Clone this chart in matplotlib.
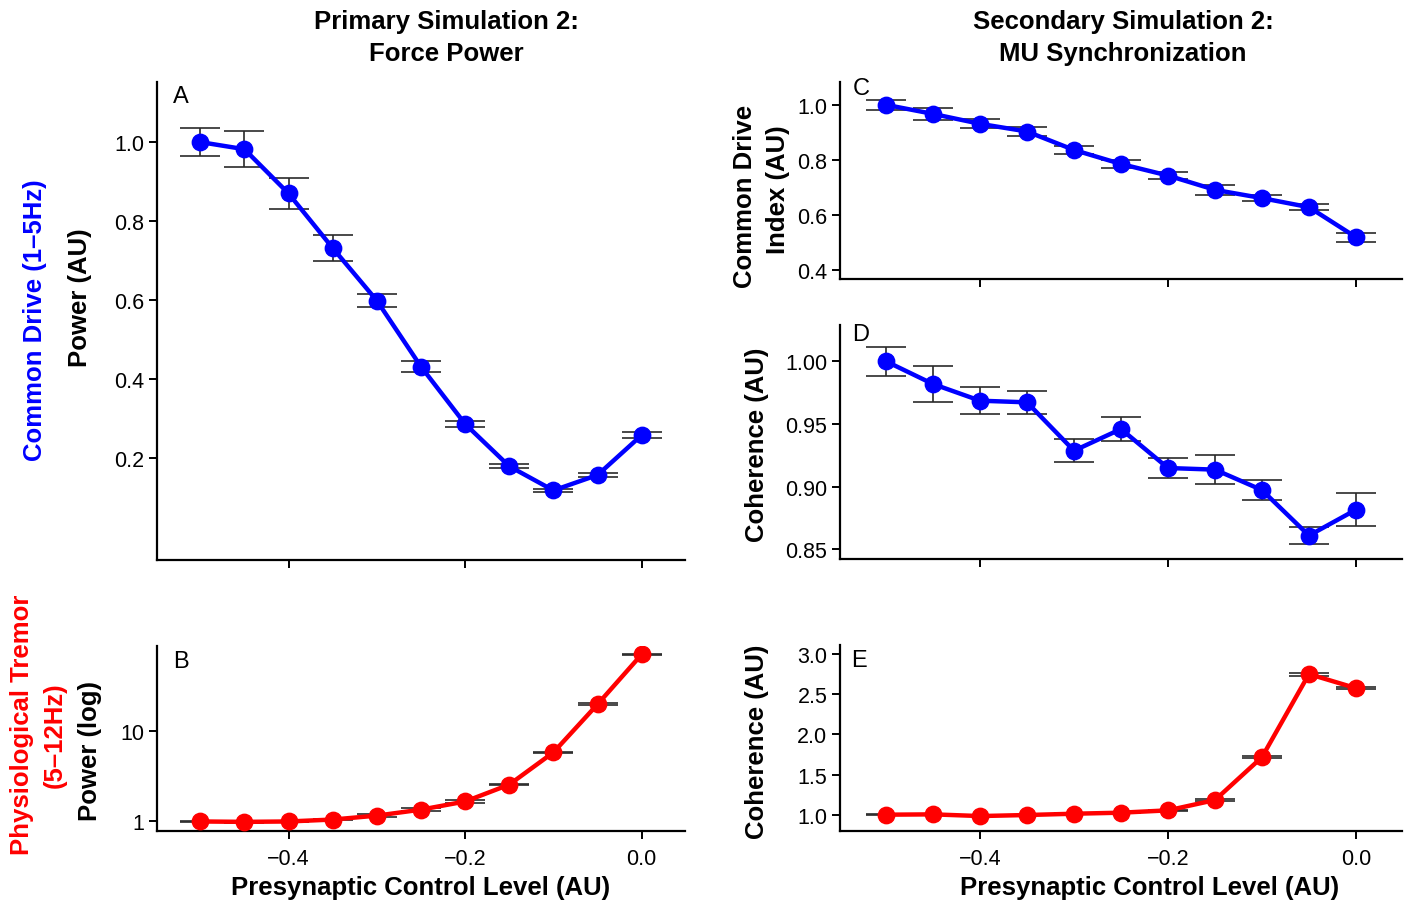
import matplotlib
matplotlib.use("Agg")
import matplotlib.pyplot as plt
from matplotlib.ticker import FixedLocator, FixedFormatter, NullLocator

plt.rcParams['font.family'] = ['Liberation Sans', 'DejaVu Sans']

# ---------------- data ----------------
pcl = [-0.5, -0.45, -0.4, -0.35, -0.3, -0.25, -0.2, -0.15, -0.1, -0.05, 0.0]

a_power = [1.0, 0.982, 0.870, 0.732, 0.599, 0.432, 0.287, 0.180, 0.119, 0.158, 0.259]
a_err = [0.036, 0.045, 0.038, 0.032, 0.016, 0.0135, 0.007, 0.0055, 0.003, 0.0055, 0.008]

b_power = [1.0, 0.99, 1.0, 1.05, 1.16, 1.35, 1.66, 2.55, 5.78, 19.6, 69.6]
b_relerr = [0.02, 0.02, 0.02, 0.02, 0.03, 0.03, 0.03, 0.02, 0.02, 0.02, 0.02]

c_cdi = [1.0, 0.967, 0.931, 0.903, 0.836, 0.785, 0.743, 0.691, 0.661, 0.628, 0.519]
c_err = [0.017, 0.022, 0.017, 0.015, 0.015, 0.014, 0.014, 0.019, 0.011, 0.011, 0.017]

d_coh = [1.000, 0.9819, 0.9686, 0.9673, 0.9287, 0.946, 0.9149, 0.9136, 0.8973, 0.861, 0.8816]
d_err = [0.0117, 0.0144, 0.0106, 0.0092, 0.0093, 0.0096, 0.0077, 0.0113, 0.0082, 0.0070, 0.013]

e_coh = [1.0, 1.004, 0.983, 0.996, 1.012, 1.025, 1.054, 1.182, 1.716, 2.75, 2.575]
e_err = [0.004, 0.004, 0.004, 0.004, 0.004, 0.005, 0.006, 0.008, 0.012, 0.018, 0.015]

x_ticks = [-0.4, -0.2, 0.0]
x_ticklabels = ["\u22120.4", "\u22120.2", "0.0"]
a_ticks = [0.2, 0.4, 0.6, 0.8, 1.0]
a_ticklabels = ["0.2", "0.4", "0.6", "0.8", "1.0"]
b_ticks = [1, 10]
b_ticklabels = ["1", "10"]
c_ticks = [0.4, 0.6, 0.8, 1.0]
c_ticklabels = ["0.4", "0.6", "0.8", "1.0"]
d_ticks = [0.85, 0.90, 0.95, 1.00]
d_ticklabels = ["0.85", "0.90", "0.95", "1.00"]
e_ticks = [1.0, 1.5, 2.0, 2.5, 3.0]
e_ticklabels = ["1.0", "1.5", "2.0", "2.5", "3.0"]

BLUE = "#0000FF"
RED = "#FF0000"
ECOL = "#2a2a2a"

W, H = 1411, 903
fig = plt.figure(figsize=(W / 100, H / 100), dpi=100)


def ax_at(x0, y0, x1, y1):
    return fig.add_axes([x0 / W, 1 - y1 / H, (x1 - x0) / W, (y1 - y0) / H])


def ftext(px, py, s, **kw):
    fig.text(px / W, 1 - py / H, s, ha="center", va="center", **kw)


def style(ax, yt, ytl, show_x):
    for s in ("top", "right"):
        ax.spines[s].set_visible(False)
    for s in ("left", "bottom"):
        ax.spines[s].set_linewidth(1.6)
        ax.spines[s].set_color("black")
    ax.set_xlim(-0.549, 0.049)
    ax.xaxis.set_major_locator(FixedLocator(x_ticks))
    if show_x:
        ax.xaxis.set_major_formatter(FixedFormatter(x_ticklabels))
    else:
        ax.xaxis.set_major_formatter(FixedFormatter([""] * len(x_ticks)))
    ax.yaxis.set_major_locator(FixedLocator(yt))
    ax.yaxis.set_major_formatter(FixedFormatter(ytl))
    ax.yaxis.set_minor_locator(NullLocator())
    ax.tick_params(direction="out", length=6, width=1.4, labelsize=15.5,
                   colors="black", pad=3)
    ax.tick_params(axis="x", pad=6)


def draw(ax, y, err, color):
    ax.errorbar(pcl, y, yerr=err, fmt="none", ecolor=ECOL, elinewidth=1.2,
                capsize=14.5, capthick=1.2, zorder=2)
    ax.plot(pcl, y, "-o", color=color, lw=3.2, ms=11.8, zorder=3)


# Panel A
axA = ax_at(157, 83, 685, 561)
draw(axA, a_power, a_err, BLUE)
axA.set_ylim(-0.057, 1.152)
style(axA, a_ticks, a_ticklabels, False)

# Panel B
axB = ax_at(157, 647, 685, 832)
b_err = [[v * r for v, r in zip(b_power, b_relerr)], [v * r for v, r in zip(b_power, b_relerr)]]
draw(axB, b_power, b_err, RED)
axB.set_yscale("log")
axB.set_ylim(0.785, 86)
style(axB, b_ticks, b_ticklabels, True)

# Panel C
axC = ax_at(840, 83, 1402, 280)
draw(axC, c_cdi, c_err, BLUE)
axC.set_ylim(0.367, 1.083)
style(axC, c_ticks, c_ticklabels, False)

# Panel D
axD = ax_at(840, 326, 1402, 560)
draw(axD, d_coh, d_err, BLUE)
axD.set_ylim(0.8423, 1.029)
style(axD, d_ticks, d_ticklabels, False)

# Panel E
axE = ax_at(840, 646, 1402, 832)
draw(axE, e_coh, e_err, RED)
axE.set_ylim(0.797, 3.112)
style(axE, e_ticks, e_ticklabels, True)

# panel letters
for ax, letter, (px, py) in [(axA, "A", (181, 97)), (axB, "B", (181, 662)),
                             (axC, "C", (861, 89)), (axD, "D", (861, 335)),
                             (axE, "E", (859, 661))]:
    ftext(px, py, letter, fontsize=17)

# titles
ftext(446, 22, "Primary Simulation 2:", fontsize=18.5, fontweight="bold")
ftext(446, 54, "Force Power", fontsize=18.5, fontweight="bold")
ftext(1123, 22, "Secondary Simulation 2:", fontsize=18.5, fontweight="bold")
ftext(1123, 54, "MU Synchronization", fontsize=18.5, fontweight="bold")

# y labels
ftext(35, 320, "Common Drive (1\u20135Hz)", fontsize=18.5, fontweight="bold",
      color=BLUE, rotation=90)
ftext(80, 298, "Power (AU)", fontsize=18.5, fontweight="bold", rotation=90)
ftext(22, 725, "Physiological Tremor", fontsize=18.5, fontweight="bold",
      color=RED, rotation=90)
ftext(55, 735, "(5\u201312Hz)", fontsize=18.5, fontweight="bold",
      color=RED, rotation=90)
ftext(90, 751, "Power (log)", fontsize=18.5, fontweight="bold", rotation=90)
ftext(745, 196, "Common Drive", fontsize=18.5, fontweight="bold", rotation=90)
ftext(778, 190, "Index (AU)", fontsize=18.5, fontweight="bold", rotation=90)
ftext(757, 445, "Coherence (AU)", fontsize=18.5, fontweight="bold", rotation=90)
ftext(757, 742, "Coherence (AU)", fontsize=18.5, fontweight="bold", rotation=90)

# x labels
ftext(421, 888, "Presynaptic Control Level (AU)", fontsize=18.5, fontweight="bold")
ftext(1150, 888, "Presynaptic Control Level (AU)", fontsize=18.5, fontweight="bold")

fig.savefig("out.png", dpi=100)
